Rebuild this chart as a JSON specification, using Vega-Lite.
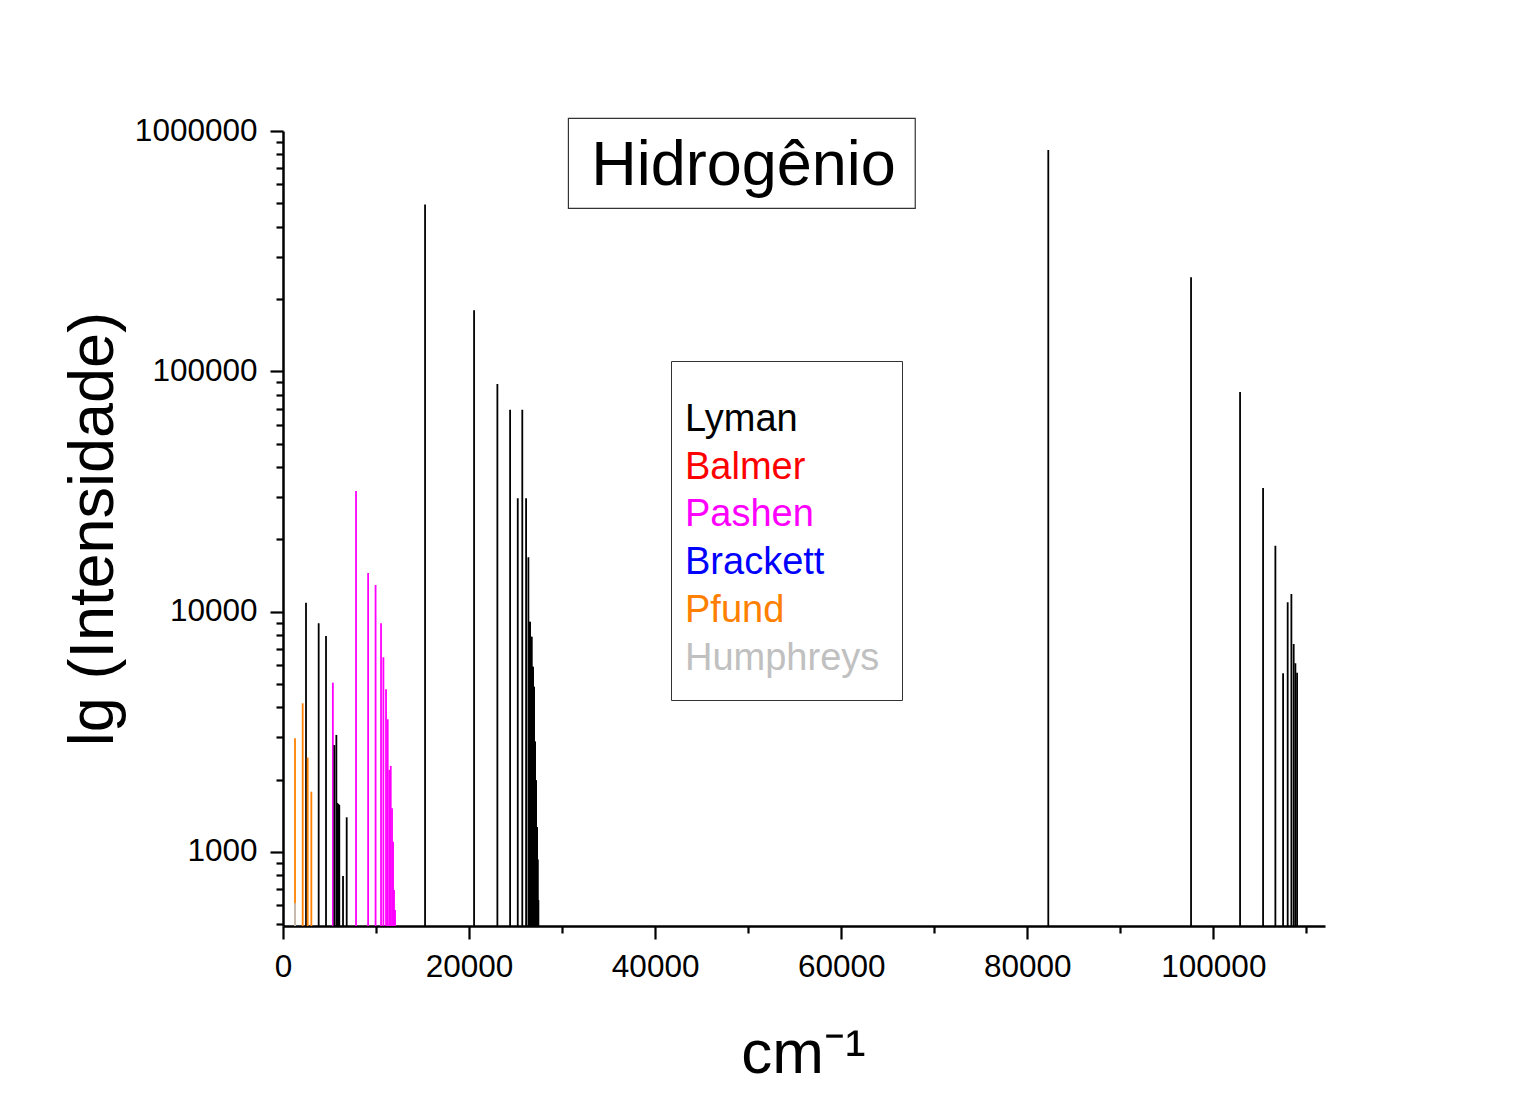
{
  "$schema": "https://vega.github.io/schema/vega-lite/v6.json",
  "width": 1042,
  "height": 795,
  "autosize": "none",
  "padding": {"left": 283, "top": 131, "right": 203, "bottom": 176},
  "background": "white",
  "config": {"view": {"stroke": null}, "font": "Liberation Sans"},
  "layer": [
    {
      "data": {"values": [
        {"serie": "Lyman", "nu": 82258, "I": 834000},
        {"serie": "Lyman", "nu": 97602, "I": 246000},
        {"serie": "Lyman", "nu": 102871, "I": 81950},
        {"serie": "Lyman", "nu": 105344, "I": 32660},
        {"serie": "Lyman", "nu": 106667, "I": 18810},
        {"serie": "Lyman", "nu": 107495, "I": 5540},
        {"serie": "Lyman", "nu": 107989, "I": 10940},
        {"serie": "Lyman", "nu": 108387, "I": 11850},
        {"serie": "Lyman", "nu": 108634, "I": 7330},
        {"serie": "Lyman", "nu": 108817, "I": 6100},
        {"serie": "Lyman", "nu": 109000, "I": 5570},
        {"serie": "Balmer", "nu": 15269, "I": 495000},
        {"serie": "Balmer", "nu": 20538, "I": 179600},
        {"serie": "Balmer", "nu": 23043, "I": 88500},
        {"serie": "Balmer", "nu": 24409, "I": 69200},
        {"serie": "Balmer", "nu": 25233, "I": 29630},
        {"serie": "Balmer", "nu": 25720, "I": 69200},
        {"serie": "Balmer", "nu": 26129, "I": 29630},
        {"serie": "Balmer", "nu": 26376, "I": 16830},
        {"serie": "Balmer", "nu": 26468, "I": 9080},
        {"serie": "Balmer", "nu": 26559, "I": 9080},
        {"serie": "Balmer", "nu": 26650, "I": 7860},
        {"serie": "Balmer", "nu": 26742, "I": 7860},
        {"serie": "Balmer", "nu": 26812, "I": 5900},
        {"serie": "Balmer", "nu": 26882, "I": 5900},
        {"serie": "Balmer", "nu": 26936, "I": 4870},
        {"serie": "Balmer", "nu": 26989, "I": 4870},
        {"serie": "Balmer", "nu": 27043, "I": 2880},
        {"serie": "Balmer", "nu": 27097, "I": 2880},
        {"serie": "Balmer", "nu": 27150, "I": 1990},
        {"serie": "Balmer", "nu": 27204, "I": 1990},
        {"serie": "Balmer", "nu": 27258, "I": 1270},
        {"serie": "Balmer", "nu": 27312, "I": 1270},
        {"serie": "Balmer", "nu": 27346, "I": 930},
        {"serie": "Balmer", "nu": 27380, "I": 930},
        {"serie": "Balmer", "nu": 27416, "I": 630},
        {"serie": "Balmer", "nu": 27452, "I": 630},
        {"serie": "Pashen", "nu": 5360, "I": 5063},
        {"serie": "Pashen", "nu": 7850, "I": 31770},
        {"serie": "Pashen", "nu": 9150, "I": 14490},
        {"serie": "Pashen", "nu": 9950, "I": 12900},
        {"serie": "Pashen", "nu": 10538, "I": 8950},
        {"serie": "Pashen", "nu": 10790, "I": 6457},
        {"serie": "Pashen", "nu": 11075, "I": 4753},
        {"serie": "Pashen", "nu": 11254, "I": 3565},
        {"serie": "Pashen", "nu": 11430, "I": 2194},
        {"serie": "Pashen", "nu": 11580, "I": 2280},
        {"serie": "Pashen", "nu": 11720, "I": 1520},
        {"serie": "Pashen", "nu": 11830, "I": 1104},
        {"serie": "Pashen", "nu": 11935, "I": 695},
        {"serie": "Pashen", "nu": 12043, "I": 574},
        {"serie": "Brackett", "nu": 2473, "I": 10900},
        {"serie": "Brackett", "nu": 3835, "I": 8940},
        {"serie": "Brackett", "nu": 4624, "I": 7920},
        {"serie": "Brackett", "nu": 5520, "I": 2786},
        {"serie": "Brackett", "nu": 5735, "I": 3069},
        {"serie": "Brackett", "nu": 5840, "I": 1600},
        {"serie": "Brackett", "nu": 5950, "I": 1584},
        {"serie": "Brackett", "nu": 6050, "I": 1570},
        {"serie": "Brackett", "nu": 6452, "I": 794},
        {"serie": "Brackett", "nu": 6846, "I": 1394},
        {"serie": "Pfund", "nu": 1290, "I": 2970},
        {"serie": "Pfund", "nu": 2115, "I": 4155},
        {"serie": "Pfund", "nu": 2652, "I": 2470},
        {"serie": "Pfund", "nu": 3047, "I": 1782},
        {"serie": "Humphreys", "nu": 1290, "I": 612}
      ]},
      "mark": {"type": "rule", "strokeWidth": 1.8},
      "encoding": {
        "x": {
          "field": "nu", "type": "quantitative",
          "scale": {"domain": [0, 112000], "nice": false, "zero": false},
          "axis": {
            "values": [0, 10000, 20000, 30000, 40000, 50000, 60000, 70000, 80000, 90000, 100000, 110000],
            "format": "d",
            "labelExpr": "datum.value % 20000 === 0 ? datum.label : ''",
            "tickSize": {"condition": {"test": "datum.value % 20000 === 0", "value": 13}, "value": 7},
            "tickWidth": 2.2, "tickColor": "black",
            "domainColor": "black", "domainWidth": 2.5,
            "labelFontSize": 31.5, "labelColor": "black", "labelPadding": 12,
            "labelFlush": false, "labelOverlap": false,
            "grid": false,
            "title": "cm⁻¹", "titleFontSize": 62, "titleFontWeight": "normal", "titleColor": "black",
            "titleX": 520, "titleY": 146, "titleBaseline": "alphabetic", "titleAlign": "center"
          }
        },
        "y": {
          "field": "I", "type": "quantitative",
          "scale": {"type": "log", "domain": [492, 1000000], "nice": false},
          "axis": {
            "values": [500, 600, 700, 800, 900, 1000, 2000, 3000, 4000, 5000, 6000, 7000, 8000, 9000, 10000, 20000, 30000, 40000, 50000, 60000, 70000, 80000, 90000, 100000, 200000, 300000, 400000, 500000, 600000, 700000, 800000, 900000, 1000000],
            "format": "d",
            "labelExpr": "indexof([1000, 10000, 100000, 1000000], datum.value) >= 0 ? datum.label : ''",
            "tickSize": {"condition": {"test": "indexof([1000, 10000, 100000, 1000000], datum.value) >= 0", "value": 13}, "value": 7},
            "tickWidth": 2.2, "tickColor": "black",
            "domainColor": "black", "domainWidth": 2.5,
            "labelFontSize": 31.5, "labelColor": "black", "labelPadding": 13,
            "labelFlush": false, "labelOverlap": false,
            "grid": false,
            "title": "lg (Intensidade)", "titleFontSize": 63, "titleFontWeight": "normal", "titleColor": "black",
            "titleAngle": -90, "titleX": -171, "titleY": 397.5, "titleBaseline": "alphabetic", "titleAlign": "center"
          }
        },
        "y2": {"datum": 492},
        "stroke": {
          "field": "serie", "type": "nominal",
          "scale": {
            "domain": ["Lyman", "Balmer", "Pashen", "Brackett", "Pfund", "Humphreys"],
            "range": ["#000000", "#000000", "#ff00ff", "#000000", "#ff8000", "#c0c0c0"]
          },
          "legend": {
            "orient": "none", "legendX": 388, "legendY": 230,
            "title": " ", "titleFontSize": 10, "titlePadding": 8,
            "padding": 22, "strokeColor": "#333333", "fillColor": "white",
            "symbolType": "circle", "symbolSize": 0, "symbolStrokeWidth": 0, "symbolOpacity": 0,
            "labelOffset": -46, "labelFontSize": 38, "labelFont": "Liberation Sans", "labelLimit": 400,
            "rowPadding": 9.7,
            "encode": {
              "labels": {
                "update": {
                  "fill": [
                    {"test": "datum.value === 'Balmer'", "value": "#ff0000"},
                    {"test": "datum.value === 'Pashen'", "value": "#ff00ff"},
                    {"test": "datum.value === 'Brackett'", "value": "#0000ff"},
                    {"test": "datum.value === 'Pfund'", "value": "#ff8000"},
                    {"test": "datum.value === 'Humphreys'", "value": "#c0c0c0"},
                    {"value": "#000000"}
                  ]
                }
              }
            }
          }
        }
      }
    },
    {
      "data": {"values": [{"titulo": "Hidrogênio"}]},
      "mark": {"type": "rect", "fill": "white", "stroke": "#333333", "strokeWidth": 1.2, "clip": false},
      "encoding": {
        "x": {"datum": 30677}, "x2": {"datum": 67957},
        "y": {"datum": 1129000}, "y2": {"datum": 476800}
      }
    },
    {
      "data": {"values": [{"titulo": "Hidrogênio"}]},
      "mark": {"type": "text", "fontSize": 63, "font": "Liberation Sans", "baseline": "alphabetic", "align": "center", "color": "black", "clip": false},
      "encoding": {
        "x": {"datum": 49495}, "y": {"datum": 596200},
        "text": {"field": "titulo", "type": "nominal"}
      }
    }
  ]
}
